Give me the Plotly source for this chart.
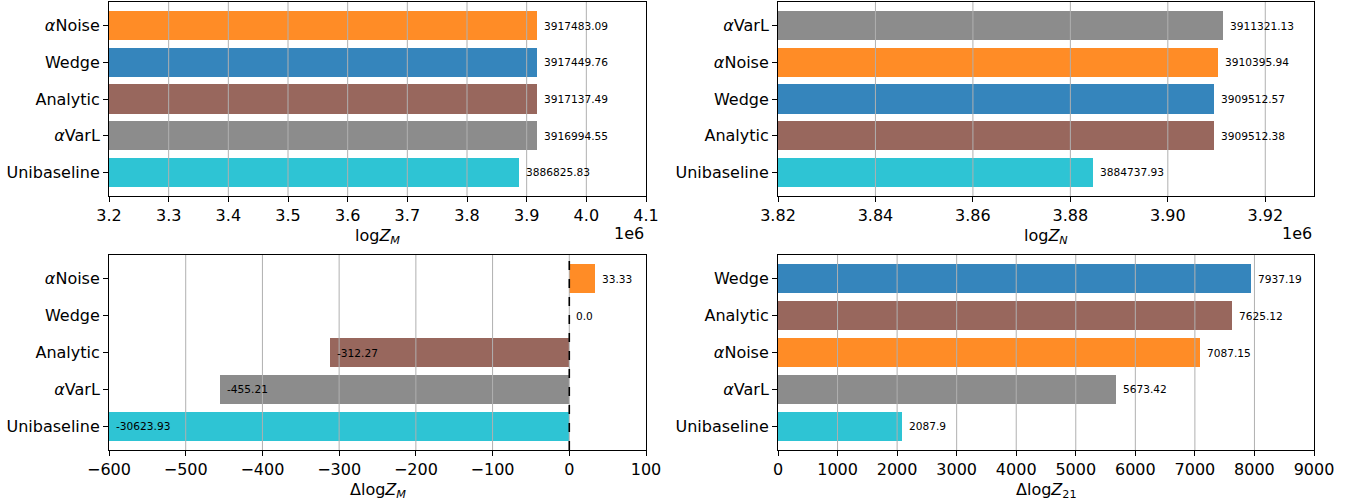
import plotly.graph_objects as go

# ---------------- data ----------------
cats_zm = ["Unibaseline", "αVarL", "Analytic", "Wedge", "αNoise"]
vals_zm = [3886825.83, 3916994.55, 3917137.49, 3917449.76, 3917483.09]

cats_zn = ["Unibaseline", "Analytic", "Wedge", "αNoise", "αVarL"]
vals_zn = [3884737.93, 3909512.38, 3909512.57, 3910395.94, 3911321.13]

cats_dzm = ["Unibaseline", "αVarL", "Analytic", "Wedge", "αNoise"]
vals_dzm = [-30623.93, -455.21, -312.27, 0.0, 33.33]

cats_dz21 = ["Unibaseline", "αVarL", "αNoise", "Analytic", "Wedge"]
vals_dz21 = [2087.9, 5673.42, 7087.15, 7625.12, 7937.19]

ticks_zm = [3.2e6, 3.3e6, 3.4e6, 3.5e6, 3.6e6, 3.7e6, 3.8e6, 3.9e6, 4.0e6, 4.1e6]
ticklabels_zm = ["3.2", "3.3", "3.4", "3.5", "3.6", "3.7", "3.8", "3.9", "4.0", "4.1"]
ticks_zn = [3.82e6, 3.84e6, 3.86e6, 3.88e6, 3.90e6, 3.92e6]
ticklabels_zn = ["3.82", "3.84", "3.86", "3.88", "3.90", "3.92"]
ticks_dzm = [-600, -500, -400, -300, -200, -100, 0, 100]
ticklabels_dzm = ["−600", "−500", "−400", "−300", "−200", "−100", "0", "100"]
ticks_dz21 = [0, 1000, 2000, 3000, 4000, 5000, 6000, 7000, 8000, 9000]
ticklabels_dz21 = [str(t) for t in ticks_dz21]

# ---------------- style ----------------
W, H = 1363, 503
FONT = "DejaVu Sans"
TICK_SIZE = 16
VAL_SIZE = 10.6
colors = {
    "αNoise": "#ff8c26",
    "Wedge": "#3585bc",
    "Analytic": "#98675d",
    "αVarL": "#8c8c8c",
    "Unibaseline": "#2ec4d4",
}

def cat_label(c):
    if c.startswith("α"):
        return "<i>α</i>" + c[1:]
    return c

def px_x(a, b):
    return [a / W, b / W]

def px_y(top, bottom):
    return [(H - bottom) / H, (H - top) / H]

ZSYM = "<i>Z</i>"
panels = [
    dict(cats=cats_zm, vals=vals_zm, ticks=ticks_zm, labels=ticklabels_zm,
         xr=[3.2e6, 4.1e6], xd=px_x(109, 646), yd=px_y(2, 196),
         title="log" + ZSYM + "<sub><i>M</i></sub>", offset=True),
    dict(cats=cats_zn, vals=vals_zn, ticks=ticks_zn, labels=ticklabels_zn,
         xr=[3.82e6, 3.93e6], xd=px_x(778, 1314), yd=px_y(2, 196),
         title="log" + ZSYM + "<sub><i>N</i></sub>", offset=True),
    dict(cats=cats_dzm, vals=vals_dzm, ticks=ticks_dzm, labels=ticklabels_dzm,
         xr=[-600, 100], xd=px_x(109, 646), yd=px_y(255, 450),
         title="Δlog" + ZSYM + "<sub><i>M</i></sub>", offset=False, zero=True),
    dict(cats=cats_dz21, vals=vals_dz21, ticks=ticks_dz21, labels=ticklabels_dz21,
         xr=[0, 9000], xd=px_x(778, 1314), yd=px_y(255, 450),
         title="Δlog" + ZSYM + "<sub>21</sub>", offset=False),
]

fig = go.Figure()
layout = dict(
    width=W, height=H,
    margin=dict(l=0, r=0, t=0, b=0, autoexpand=False),
    paper_bgcolor="white", plot_bgcolor="white",
    showlegend=False,
    font=dict(family=FONT, size=TICK_SIZE, color="black"),
    bargap=0,
)
shapes = []
annotations = []

for i, p in enumerate(panels, start=1):
    xa = "x" if i == 1 else f"x{i}"
    ya = "y" if i == 1 else f"y{i}"
    pos = list(range(len(p["cats"])))
    fig.add_trace(go.Bar(
        x=p["vals"], y=pos, orientation="h", width=0.8,
        marker=dict(color=[colors[c] for c in p["cats"]], line=dict(width=0)),
        xaxis=xa, yaxis=ya, hoverinfo="x+y",
    ))
    axis_common = dict(
        showline=True, mirror=True, linecolor="black", linewidth=1,
        ticks="outside", ticklen=5, tickwidth=1, tickcolor="black",
        showgrid=False, zeroline=False, automargin=False,
        tickfont=dict(family=FONT, size=TICK_SIZE, color="black"),
    )
    layout["xaxis" if i == 1 else f"xaxis{i}"] = dict(
        domain=p["xd"], range=p["xr"], tickmode="array",
        tickvals=p["ticks"], ticktext=p["labels"],
        anchor=ya, **axis_common,
    )
    layout["yaxis" if i == 1 else f"yaxis{i}"] = dict(
        domain=p["yd"], range=[-0.64, len(pos) - 1 + 0.64], tickmode="array",
        tickvals=pos, ticktext=[cat_label(c) for c in p["cats"]],
        anchor=xa, **axis_common,
    )
    # grid lines (drawn above bars like matplotlib)
    for t in p["ticks"]:
        if p["xr"][0] < t < p["xr"][1]:
            shapes.append(dict(type="line", xref=xa, yref=f"{ya} domain",
                               x0=t, x1=t, y0=0, y1=1, layer="above",
                               line=dict(color="#b0b0b0", width=1)))
    if p.get("zero"):
        shapes.append(dict(type="line", xref=xa, yref=f"{ya} domain",
                           x0=0, x1=0, y0=0, y1=1, layer="above",
                           line=dict(color="black", width=1.6, dash="dash")))
    # value labels
    for c, v, y in zip(p["cats"], p["vals"], pos):
        annotations.append(dict(
            x=max(v, p["xr"][0]), y=y, xref=xa, yref=ya,
            text=str(round(v, 2)), showarrow=False,
            xanchor="left", yanchor="middle", xshift=5,
            font=dict(family=FONT, size=VAL_SIZE, color="black"),
        ))
    # axis title
    xmid = (p["xd"][0] + p["xd"][1]) / 2
    ty = 236 if i <= 2 else 490
    annotations.append(dict(
        x=xmid, y=(H - ty) / H, xref="paper", yref="paper",
        text=p["title"], showarrow=False, xanchor="center", yanchor="middle",
        font=dict(family=FONT, size=TICK_SIZE, color="black"),
    ))
    if p["offset"]:
        annotations.append(dict(
            x=p["xd"][1], y=(H - 233) / H, xref="paper", yref="paper",
            text="1e6", showarrow=False, xanchor="right", yanchor="middle",
            font=dict(family=FONT, size=TICK_SIZE, color="black"),
        ))

layout["shapes"] = shapes
layout["annotations"] = annotations
fig.update_layout(**layout)
fig.write_html(
    "out.html",
    config={"displayModeBar": False},
    post_script="document.body.style.margin='0';document.body.style.overflow='hidden';",
)
